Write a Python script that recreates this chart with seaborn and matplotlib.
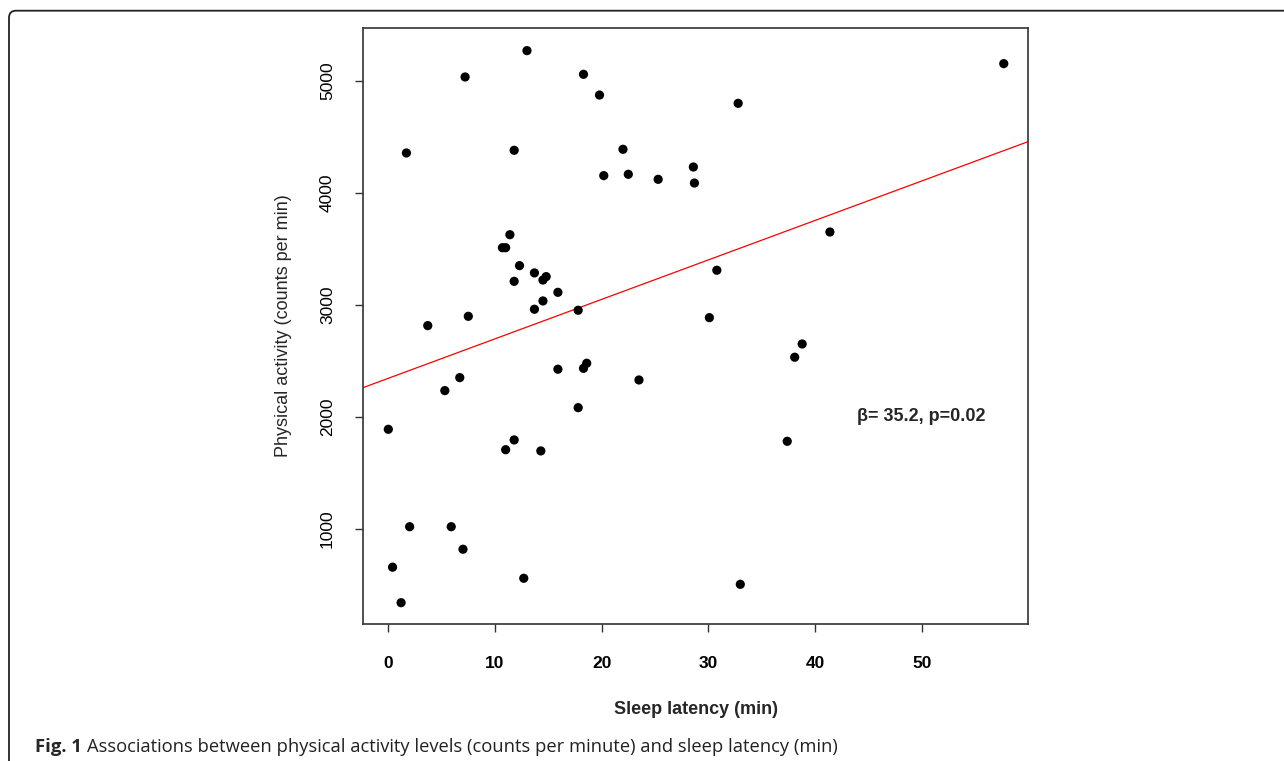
import matplotlib
matplotlib.use("Agg")
import matplotlib.pyplot as plt
import seaborn as sns
import pandas as pd
from matplotlib.patches import FancyBboxPatch

# ---- data ----
sleep_latency = [13.0, 7.2, 18.3, 19.8, 1.7, 11.8, 22.0, 20.2, 22.5, 25.3,
                 28.6, 28.7, 11.4, 10.7, 11.0, 12.3, 13.7, 14.8, 14.5, 11.8,
                 15.9, 14.5, 13.7, 17.8, 7.5, 3.7, 6.7, 5.3, 15.9, 18.3,
                 18.6, 23.5, 17.8, 0.0, 11.8, 11.0, 14.3, 2.0, 5.9, 7.0,
                 0.4, 12.7, 1.2, 57.7, 32.8, 41.4, 30.8, 30.1, 38.8, 38.1,
                 37.4, 33.0]
physical_activity = [5268, 5033, 5057, 4872, 4355, 4379, 4388, 4153, 4165, 4120,
                     4230, 4087, 3626, 3510, 3510, 3350, 3285, 3252, 3222, 3210,
                     3112, 3035, 2961, 2952, 2898, 2815, 2351, 2235, 2426, 2434,
                     2479, 2330, 2083, 1890, 1795, 1708, 1697, 1021, 1021, 820,
                     660, 561, 343, 5152, 4798, 3650, 3309, 2886, 2651, 2533,
                     1783, 507]
fit_intercept = 2345
fit_slope = 35.2
annotation = "β= 35.2, p=0.02"
x_ticks = [0, 10, 20, 30, 40, 50]
y_ticks = [1000, 2000, 3000, 4000, 5000]
x_label = "Sleep latency (min)"
y_label = "Physical activity (counts per min)"
caption_bold = "Fig. 1"
caption_rest = "Associations between physical activity levels (counts per minute) and sleep latency (min)"

df = pd.DataFrame({"x": sleep_latency, "y": physical_activity})

sns.set_theme(style="white")
plt.rcParams["font.family"] = ["Liberation Sans", "DejaVu Sans"]

fig = plt.figure(figsize=(12.84, 7.61), dpi=100)
ax = fig.add_axes([362.7 / 1284, 1 - 624 / 761, (1028.3 - 362.7) / 1284, (624 - 28) / 761])

sns.scatterplot(data=df, x="x", y="y", ax=ax, color="black", s=44,
                linewidth=0, edgecolor="none", zorder=3)
ax.axline((0, fit_intercept), slope=fit_slope, color="#ff0000", lw=0.9, zorder=2)

ax.set_xlim(-2.4, 60.0)
ax.set_ylim(153, 5470)
ax.set_xticks(x_ticks)
ax.set_yticks(y_ticks)
ax.set_xticklabels([str(t) for t in x_ticks], fontsize=12.5, fontweight="bold")
ax.set_yticklabels([str(t) for t in y_ticks], fontsize=12.5)
for lab in ax.get_yticklabels():
    lab.set_rotation(90)
    lab.set_va("center")

for sp in ax.spines.values():
    sp.set_visible(True)
    sp.set_color("#333333")
    sp.set_linewidth(1.2)

ax.tick_params(axis="both", direction="out", length=6, width=1.0, color="#333333",
               bottom=True, left=True, labelcolor="black")
ax.tick_params(axis="x", pad=17)
ax.tick_params(axis="y", pad=14)

ax.set_xlabel(x_label, fontsize=13, fontweight="bold")
ax.set_ylabel(y_label, fontsize=13)
ax.xaxis.set_label_coords(0.5, -(701 - 624) / 596)
ax.yaxis.set_label_coords(-(362.7 - 292) / 665.6, 0.5)

ax.text(50, 2000, annotation, fontsize=13, fontweight="bold", ha="center", va="center")

# caption
t1 = fig.text(35 / 1284, 1 - 746.7 / 761, caption_bold, fontsize=13.3, fontweight="bold",
              family=["Open Sans", "DejaVu Sans"], va="center", ha="left")
ax.annotate(caption_rest, xy=(1, 0.5), xycoords=t1, xytext=(4, 0),
            textcoords="offset points", fontsize=13.2, family=["Open Sans", "DejaVu Sans"],
            va="center", ha="left", annotation_clip=False, color="#222222")

# rounded frame
frame = FancyBboxPatch((0.09, -0.3), 13.3, 7.503 + 0.3, boxstyle="round,pad=0,rounding_size=0.07",
                       transform=fig.dpi_scale_trans, fill=False, ec="#222222", lw=1.3,
                       clip_on=False)
fig.add_artist(frame)

fig.savefig("out.png", dpi=100)
